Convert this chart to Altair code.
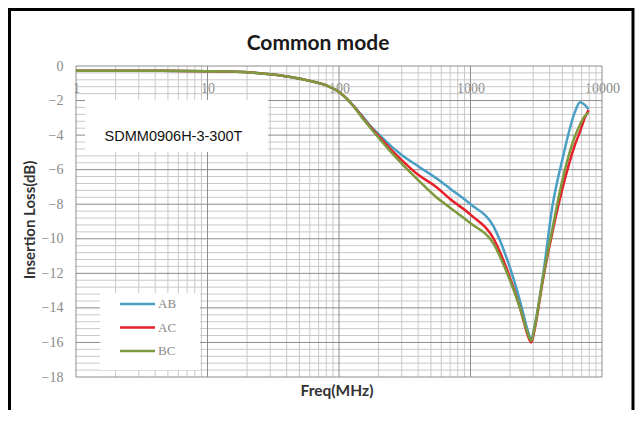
import altair as alt
import pandas as pd

# ---- data ----
freq = [1, 3, 10, 15, 20, 30, 45, 60, 80, 90, 100, 115, 130, 145, 170, 200, 250, 300, 400, 550, 700,
        1000, 1500, 1900, 2400, 2700, 2900, 3100, 3550, 4200, 5000, 6200, 6800, 7400, 7900]
ab = [-0.28, -0.28, -0.3, -0.32, -0.36, -0.48, -0.66, -0.86, -1.12, -1.3, -1.5, -1.9, -2.33, -2.75,
      -3.4, -3.95, -4.65, -5.15, -5.8, -6.5, -7.1, -8.0, -9.3, -11.2, -13.7, -15.2, -15.8, -14.9,
      -12.2, -8.1, -5.4, -2.7, -2.1, -2.25, -2.5]
ac = [-0.28, -0.28, -0.3, -0.32, -0.36, -0.48, -0.66, -0.86, -1.12, -1.3, -1.5, -1.9, -2.35, -2.8,
      -3.45, -4.05, -4.85, -5.45, -6.3, -7.0, -7.7, -8.6, -10.0, -11.8, -14.1, -15.5, -16.0, -15.1,
      -12.4, -9.6, -7.1, -4.6, -3.8, -3.0, -2.55]
bc = [-0.28, -0.28, -0.3, -0.32, -0.36, -0.48, -0.66, -0.86, -1.12, -1.3, -1.5, -1.9, -2.37, -2.85,
      -3.5, -4.15, -5.0, -5.65, -6.6, -7.6, -8.2, -9.1, -10.3, -12.0, -14.1, -15.4, -15.9, -15.0,
      -12.3, -9.4, -6.6, -4.1, -3.4, -2.9, -2.7]
series = ["AB", "AC", "BC"]
colors = ["#4a9fc4", "#e8202a", "#7d9a3e"]

x_labels = [1, 10, 100, 1000, 10000]
x_minor = [m * d for d in [1, 10, 100, 1000] for m in range(2, 10)]
y_major = list(range(-18, 1, 2))
y_minor = [round(-18 + 0.4 * i, 1) for i in range(46) if round(-18 + 0.4 * i, 1) not in y_major]

title_text = "Common mode"
x_title = "Freq(MHz)"
y_title = "Insertion Loss(dB)"
box_text = "SDMM0906H-3-300T"

# ---- tables ----
rows = []
for name, vals in zip(series, [ab, ac, bc]):
    for f, v in zip(freq, vals):
        rows.append({"freq": f, "loss": v, "series": name})
df = pd.DataFrame(rows)

W, H = 526, 311
xs = alt.Scale(type="log", domain=[1, 10000], nice=False)
ys = alt.Scale(domain=[-18, 0], nice=False)
xaxis = alt.Axis(orient="bottom", offset=-H, values=x_labels, format="d", title=None,
                 grid=False, domain=False, ticks=False, labelPadding=15,
                 labelFlush=False, labelOverlap=False, labelFont="Liberation Serif",
                 labelFontSize=14, labelColor="#8a8a8a")
yaxis = alt.Axis(values=y_major, title=None, grid=False, domain=False, ticks=False,
                 labelPadding=13, labelFont="Liberation Serif", labelFontSize=14,
                 labelColor="#8a8a8a")

minor_x = alt.Chart(pd.DataFrame({"v": x_minor})).mark_rule(color="#c8c8c8", strokeWidth=1).encode(
    x=alt.X("v:Q", scale=xs, axis=xaxis))
major_x = alt.Chart(pd.DataFrame({"v": x_labels})).mark_rule(color="#8c8c8c", strokeWidth=1).encode(
    x=alt.X("v:Q", scale=xs, axis=xaxis))
minor_y = alt.Chart(pd.DataFrame({"v": y_minor})).mark_rule(color="#c8c8c8", strokeWidth=1).encode(
    y=alt.Y("v:Q", scale=ys, axis=yaxis))
major_y = alt.Chart(pd.DataFrame({"v": y_major})).mark_rule(color="#8c8c8c", strokeWidth=1).encode(
    y=alt.Y("v:Q", scale=ys, axis=yaxis))

lines = alt.Chart(df).mark_line(strokeWidth=2.5, interpolate="monotone").encode(
    x=alt.X("freq:Q", scale=xs, axis=xaxis),
    y=alt.Y("loss:Q", scale=ys, axis=yaxis),
    color=alt.Color("series:N", scale=alt.Scale(domain=series, range=colors), legend=None),
    detail="series:N",
)

one = alt.Data(values=[{}])

textbox = alt.Chart(one).mark_rect(fill="white").encode(
    x=alt.value(9), x2=alt.value(192), y=alt.value(34), y2=alt.value(86))
textbox_t = alt.Chart(one).mark_text(text=box_text, font="Liberation Sans", fontSize=14.5,
                                     color="#111111", align="center", baseline="middle").encode(
    x=alt.value(97.5), y=alt.value(71))

legend_box = alt.Chart(one).mark_rect(fill="white").encode(
    x=alt.value(24), x2=alt.value(124), y=alt.value(227), y2=alt.value(304))
legend_layers = []
for i, (name, c) in enumerate(zip(series, colors)):
    yy = 238 + i * 23.5
    legend_layers.append(alt.Chart(one).mark_rule(color=c, strokeWidth=2.5).encode(
        x=alt.value(44), x2=alt.value(79), y=alt.value(yy)))
    legend_layers.append(alt.Chart(one).mark_text(text=name, font="Liberation Serif", fontSize=13,
                                                  color="#8a8a8a", align="left", baseline="middle").encode(
        x=alt.value(82), y=alt.value(yy)))

title = alt.Chart(one).mark_text(text=title_text, font="Lato", fontWeight="bold", fontSize=21,
                                 color="#1a1a1a", align="center", baseline="middle").encode(
    x=alt.value(242), y=alt.value(-22))
xt = alt.Chart(one).mark_text(text=x_title, font="Lato", fontWeight="bold", fontSize=15.5,
                              color="#333333", align="center", baseline="middle").encode(
    x=alt.value(261), y=alt.value(325))
yt = alt.Chart(one).mark_text(text=y_title, font="Lato", fontWeight="bold", fontSize=15,
                              color="#333333", align="center", baseline="middle", angle=270).encode(
    x=alt.value(-46), y=alt.value(154))

frame = alt.Chart(one).mark_rect(filled=False, stroke="black", strokeWidth=3).encode(
    x=alt.value(-66.5), x2=alt.value(557), y=alt.value(-56.5), y2=alt.value(400))

chart = alt.layer(
    minor_x, minor_y, major_x, major_y, lines, textbox, textbox_t, legend_box, *legend_layers,
    title, xt, yt, frame
).properties(
    width=W, height=H, autosize="none",
    padding={"left": 68, "top": 58, "right": 33, "bottom": 33},
    background="white",
).configure_view(stroke=None)

chart.save("out.html", embed_options={"renderer": "svg", "actions": False})
